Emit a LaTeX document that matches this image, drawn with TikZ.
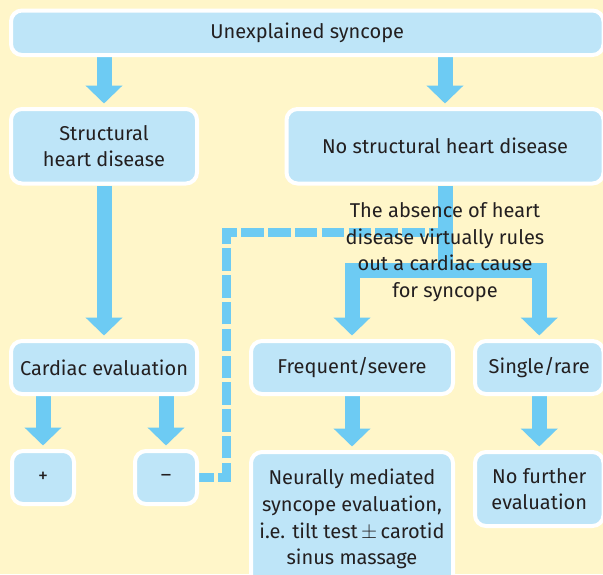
\documentclass[tikz,border=0pt]{standalone}
\usepackage{fontspec}
\setmainfont{Fira Sans}
\usetikzlibrary{arrows.meta}
\definecolor{bgy}{HTML}{FFF6C9}
\definecolor{boxb}{HTML}{BEE5F8}
\definecolor{arrb}{HTML}{6DCBF3}
\definecolor{txt}{HTML}{231F20}
\pgfdeclarelayer{bg}
\pgfsetlayers{bg,main}
\tikzset{
  BigT/.tip={Triangle[width=36pt,length=18pt]},
  box/.style={draw=white, line width=4pt, fill=boxb, rounded corners=11pt, inner sep=0pt,
    text=txt, align=center, font=\fontsize{20}{26.7}\selectfont},
  arr/.style={draw=arrb, line width=15pt, -BigT, shorten >=3.5pt},
  dashline/.style={draw=arrb, line width=9pt, dash pattern=on 22.5pt off 4.3pt, dash phase=7.5pt, line join=miter},
  notetext/.style={text=txt, align=center, inner sep=0pt, font=\fontsize{20}{26.7}\selectfont}
}
\begin{document}
\begin{tikzpicture}[x=1pt,y=-1pt]
\useasboundingbox (0,0) rectangle (603,574);
\clip (0,0) rectangle (603,574);
\node[box, minimum width=592.5pt, minimum height=44.5pt] (top) at (307.25,32.75) {Unexplained syncope};
\node[box, minimum width=186pt, minimum height=74.5pt] (struct) at (104,146.25) {Structural\\heart disease};
\node[box, minimum width=317pt, minimum height=74.5pt] (nostruct) at (445,146.25) {No structural heart disease};
\node[box, minimum width=186pt, minimum height=53pt] (cardiac) at (104,367.5) {Cardiac evaluation};
\node[box, minimum width=202pt, minimum height=53pt] (freq) at (352,367.5) {Frequent/severe};
\node[box, minimum width=128.5pt, minimum height=53pt] (single) at (539.25,367.5) {Single/rare};
\node[box, minimum width=62pt, minimum height=53pt] (plus) at (43,477.5) {+};
\node[box, minimum width=62pt, minimum height=53pt] (minus) at (166,477.5) {–};
\node[box, minimum width=202pt, minimum height=134pt] (neural) at (352,519) {Neurally mediated\\syncope evaluation,\\i.e. tilt test\,$\pm$\,carotid\\sinus massage};
\node[box, minimum width=128.5pt, minimum height=74pt] (nofurther) at (539.25,489) {No further\\evaluation};
\coordinate (dc1) at (226,477.5);
\coordinate (dc2) at (226,232.5);
\coordinate (junc) at (445,270.5);
\begin{pgfonlayer}{bg}
\fill[bgy] (0,0) rectangle (603,574);
\draw[dashline] (minus.east) -- (dc1) -- (dc2) -- (dc2 -| nostruct.south);
\draw[draw=arrb, line width=15pt] (nostruct.south) -- (junc);
\draw[arr, BigT-BigT, shorten <=3.5pt, line join=miter] (freq.north) -- (freq.north |- junc) -- (single.north |- junc) -- (single.north);
\draw[arr] (top.south -| struct.north) -- (struct.north);
\draw[arr] (top.south -| nostruct.north) -- (nostruct.north);
\draw[arr] (struct.south) -- (struct.south |- cardiac.north);
\draw[arr] (cardiac.south -| plus.north) -- (plus.north);
\draw[arr] (cardiac.south -| minus.north) -- (minus.north);
\draw[arr] (freq.south) -- (neural.north);
\draw[arr] (single.south) -- (nofurther.north);
\end{pgfonlayer}
\node[notetext] (note) at (445,252) {The absence of heart\\disease virtually rules\\out a cardiac cause\\for syncope};
\end{tikzpicture}
\end{document}
